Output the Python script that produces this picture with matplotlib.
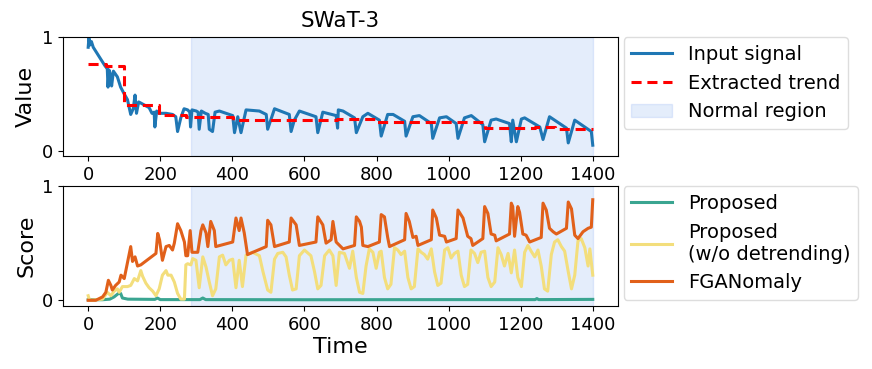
import matplotlib
matplotlib.use("Agg")
import matplotlib.pyplot as plt
from matplotlib.patches import Patch

# ---------------- data ----------------
sig_t = [0, 2, 5, 9, 14, 46, 53, 55, 58, 62, 65, 70, 81, 90, 100, 109, 118, 125, 130, 134,
         140, 146, 169, 177, 183, 185, 190, 197, 216, 234, 243, 248, 257, 266, 276, 282, 284,
         288, 300, 305, 308, 314, 325, 333, 336, 345, 352, 364, 401, 406, 415, 424, 438, 475,
         494, 498, 517, 558, 563, 572, 586, 632, 637, 651, 688, 692, 694, 707, 739, 744, 762,
         776, 808, 813, 831, 846, 878, 882, 901, 919, 952, 956, 975, 994, 1021, 1026, 1044,
         1063, 1095, 1100, 1118, 1132, 1169, 1174, 1178, 1188, 1202, 1211, 1253, 1262, 1280,
         1327, 1332, 1350, 1396, 1400]
sig_v = [0.91, 0.99, 0.93, 0.96, 0.91, 0.75, 0.72, 0.56, 0.71, 0.67, 0.57, 0.70, 0.65, 0.56,
         0.50, 0.45, 0.32, 0.37, 0.49, 0.33, 0.43, 0.42, 0.38, 0.33, 0.34, 0.21, 0.35, 0.33,
         0.33, 0.32, 0.30, 0.17, 0.29, 0.37, 0.36, 0.34, 0.21, 0.36, 0.35, 0.34, 0.19, 0.35,
         0.33, 0.32, 0.19, 0.17, 0.34, 0.35, 0.31, 0.16, 0.30, 0.16, 0.36, 0.35, 0.32, 0.19,
         0.37, 0.32, 0.17, 0.27, 0.35, 0.30, 0.16, 0.34, 0.31, 0.20, 0.36, 0.35, 0.29, 0.16,
         0.30, 0.33, 0.27, 0.13, 0.32, 0.32, 0.26, 0.13, 0.30, 0.31, 0.24, 0.11, 0.29, 0.30,
         0.24, 0.11, 0.29, 0.31, 0.23, 0.08, 0.27, 0.28, 0.24, 0.08, 0.27, 0.08, 0.28, 0.29,
         0.21, 0.10, 0.30, 0.20, 0.07, 0.27, 0.17, 0.05]

trend_t = [0, 50, 100, 197, 271, 401, 690, 797, 1100, 1240, 1295, 1400]
trend_v = [0.76, 0.745, 0.40, 0.315, 0.30, 0.272, 0.283, 0.25, 0.20, 0.213, 0.19, 0.19]

normal_start, normal_end = 286, 1400

fga_t = [0, 21, 40, 49, 56, 63, 67, 76, 86, 91, 100, 118, 123, 130, 137, 146, 188, 193, 198,
         206, 216, 225, 234, 239, 248, 257, 267, 271, 276, 283, 288, 304, 313, 318, 327, 332,
         340, 350, 354, 401, 410, 419, 424, 433, 442, 494, 498, 507, 517, 558, 563, 577, 586,
         632, 637, 651, 660, 674, 679, 688, 707, 739, 744, 753, 758, 762, 776, 808, 813, 822,
         831, 836, 878, 882, 891, 901, 910, 915, 952, 956, 966, 975, 989, 994, 1021, 1026,
         1040, 1053, 1062, 1067, 1095, 1100, 1109, 1118, 1128, 1132, 1169, 1174, 1178, 1183,
         1192, 1197, 1206, 1215, 1225, 1257, 1262, 1271, 1280, 1290, 1299, 1327, 1332, 1341,
         1350, 1359, 1373, 1387, 1396, 1400]
fga_v = [0.0, 0.0, 0.03, 0.07, 0.175, 0.13, 0.09, 0.13, 0.16, 0.22, 0.19, 0.47, 0.34, 0.38,
         0.30, 0.31, 0.41, 0.585, 0.53, 0.35, 0.47, 0.48, 0.44, 0.50, 0.67, 0.61, 0.51, 0.39,
         0.39, 0.61, 0.42, 0.42, 0.61, 0.66, 0.59, 0.47, 0.69, 0.61, 0.47, 0.51, 0.72, 0.61,
         0.72, 0.59, 0.40, 0.47, 0.70, 0.66, 0.47, 0.51, 0.72, 0.66, 0.48, 0.51, 0.73, 0.66,
         0.50, 0.53, 0.69, 0.51, 0.45, 0.48, 0.73, 0.69, 0.64, 0.48, 0.47, 0.51, 0.75, 0.73,
         0.55, 0.47, 0.53, 0.76, 0.69, 0.55, 0.56, 0.48, 0.53, 0.79, 0.72, 0.57, 0.56, 0.51,
         0.54, 0.79, 0.72, 0.56, 0.54, 0.48, 0.54, 0.82, 0.76, 0.58, 0.57, 0.52, 0.58, 0.85,
         0.82, 0.56, 0.82, 0.77, 0.58, 0.57, 0.51, 0.55, 0.85, 0.79, 0.63, 0.60, 0.58, 0.63,
         0.86, 0.80, 0.57, 0.54, 0.60, 0.63, 0.64, 0.88]

nodt_t = [0, 4, 40, 53, 63, 72, 81, 86, 95, 109, 118, 128, 137, 146, 151, 160, 169, 179, 188,
          197, 206, 216, 221, 230, 239, 248, 257, 267, 271, 276, 285, 290, 299, 308, 318, 327,
          336, 345, 354, 364, 373, 382, 392, 401, 410, 419, 428, 438, 456, 475, 485, 498, 507,
          517, 526, 540, 549, 558, 567, 577, 586, 600, 618, 628, 637, 646, 656, 669, 679, 688,
          697, 711, 725, 734, 744, 753, 762, 771, 780, 790, 799, 808, 813, 822, 831, 840, 850,
          859, 868, 878, 887, 896, 905, 915, 924, 933, 942, 952, 961, 970, 979, 989, 998, 1007,
          1016, 1026, 1035, 1044, 1053, 1062, 1072, 1081, 1090, 1100, 1109, 1118, 1128, 1137,
          1146, 1155, 1165, 1174, 1183, 1192, 1202, 1211, 1220, 1229, 1239, 1248, 1257, 1266,
          1275, 1285, 1294, 1303, 1313, 1322, 1332, 1341, 1350, 1359, 1368, 1378, 1387, 1392,
          1400]
nodt_v = [0.04, 0.0, 0.01, 0.07, 0.04, 0.08, 0.10, 0.07, 0.12, 0.12, 0.13, 0.19, 0.17, 0.26,
          0.21, 0.15, 0.11, 0.08, 0.04, 0.10, 0.22, 0.26, 0.22, 0.22, 0.16, 0.06, 0.01, 0.01,
          0.31, 0.32, 0.31, 0.365, 0.35, 0.11, 0.38, 0.29, 0.16, 0.04, 0.10, 0.38, 0.395, 0.31,
          0.35, 0.36, 0.11, 0.35, 0.12, 0.395, 0.42, 0.39, 0.25, 0.09, 0.07, 0.36, 0.41, 0.42,
          0.38, 0.22, 0.09, 0.10, 0.39, 0.44, 0.39, 0.25, 0.10, 0.13, 0.39, 0.44, 0.39, 0.13,
          0.42, 0.41, 0.28, 0.43, 0.20, 0.07, 0.06, 0.30, 0.45, 0.42, 0.28, 0.42, 0.43, 0.20,
          0.10, 0.14, 0.46, 0.44, 0.40, 0.43, 0.20, 0.10, 0.12, 0.45, 0.42, 0.40, 0.36, 0.45,
          0.25, 0.13, 0.15, 0.44, 0.46, 0.37, 0.41, 0.43, 0.22, 0.12, 0.14, 0.44, 0.41, 0.33,
          0.42, 0.43, 0.20, 0.12, 0.16, 0.46, 0.40, 0.30, 0.41, 0.24, 0.44, 0.20, 0.12, 0.42,
          0.48, 0.43, 0.38, 0.44, 0.30, 0.10, 0.08, 0.40, 0.51, 0.53, 0.47, 0.43, 0.25, 0.10,
          0.22, 0.52, 0.54, 0.46, 0.30, 0.45, 0.22]

prop_t = [0, 40, 60, 72, 80, 86, 90, 95, 110, 185, 192, 200, 310, 318, 326, 600, 1000, 1240,
          1245, 1250, 1400]
prop_v = [0.005, 0.005, 0.01, 0.03, 0.05, 0.065, 0.06, 0.02, 0.01, 0.008, 0.02, 0.006, 0.006,
          0.02, 0.006, 0.005, 0.006, 0.006, 0.015, 0.006, 0.008]

xticks = [0, 200, 400, 600, 800, 1000, 1200, 1400]

# ---------------- styling ----------------
c_sig = "#1f77b4"
c_trend = "#ff0000"
c_span = "#6495ED"
c_prop = "#3aa591"
c_nodt = "#f3de7c"
c_fga = "#e1601a"
LW = 2.2

fig = plt.figure(figsize=(8.72, 3.69), dpi=100)
ax1 = fig.add_axes([0.0722, 0.5772, 0.6365, 0.3225])
ax2 = fig.add_axes([0.0722, 0.1707, 0.6365, 0.3252])

# top panel
ax1.axvspan(normal_start, normal_end, color=c_span, alpha=0.17, lw=1)
ax1.plot(sig_t, sig_v, color=c_sig, lw=LW, label="Input signal")
ax1.plot(trend_t, trend_v, color=c_trend, lw=LW, ls=(0, (3.3, 1.9)), drawstyle="steps-post",
         label="Extracted trend")
ax1.set_ylim(-0.045, 1.0)
ax1.set_yticks([0, 1])
ax1.set_ylabel("Value", fontsize=16)
ax1.set_title("SWaT-3", fontsize=15.5, pad=7)

handles = [ax1.lines[0], ax1.lines[1], Patch(facecolor=c_span, alpha=0.17, edgecolor=c_span)]
ax1.legend(handles, ["Input signal", "Extracted trend", "Normal region"],
           loc="upper left", bbox_to_anchor=(1.01, 1.0), borderaxespad=0, fontsize=14,
           handlelength=2.1, framealpha=1, edgecolor="#dddddd")

# bottom panel
ax2.axvspan(normal_start, normal_end, color=c_span, alpha=0.17, lw=1)
ax2.plot(prop_t, prop_v, color=c_prop, lw=LW, label="Proposed")
ax2.plot(nodt_t, nodt_v, color=c_nodt, lw=LW, label="Proposed\n(w/o detrending)")
ax2.plot(fga_t, fga_v, color=c_fga, lw=LW, label="FGANomaly")
ax2.set_ylim(-0.05, 1.0)
ax2.set_yticks([0, 1])
ax2.set_ylabel("Score", fontsize=16)
ax2.set_xlabel("Time", fontsize=16, labelpad=2)
ax2.legend(loc="upper left", bbox_to_anchor=(1.01, 1.0), borderaxespad=0, fontsize=14,
           handlelength=2.1, framealpha=1, edgecolor="#dddddd")

for ax in (ax1, ax2):
    ax.set_xlim(-70, 1470)
    ax.set_xticks(xticks)
    ax.tick_params(labelsize=13)

fig.savefig("out.png", dpi=100)
